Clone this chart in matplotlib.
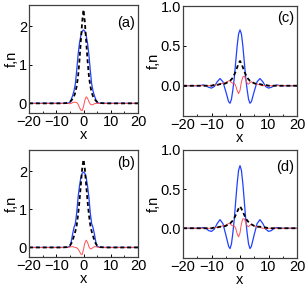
import numpy as np
import matplotlib.pyplot as plt
from matplotlib.ticker import MultipleLocator

plt.rcParams['font.family'] = ['Liberation Sans', 'DejaVu Sans']

# x samples for panels (a) and (b)
x_ab = [-20, -8, -6, -5, -4.5, -4, -3.5, -3, -2.5, -2, -1.5, -1, -0.5, 0,
        0.5, 1, 1.5, 2, 2.5, 3, 3.5, 4, 4.5, 5, 6, 8, 20]

blue_a = [0, 0, 0, 0.02, 0.1, 0.2, 0.32, 0.5, 0.85, 1.25, 1.55, 1.75, 1.87, 1.9,
          1.87, 1.75, 1.55, 1.25, 0.85, 0.5, 0.32, 0.2, 0.1, 0.02, 0, 0, 0]
black_a = [0, 0, 0.01, 0.04, 0.07, 0.12, 0.18, 0.28, 0.45, 0.7, 1.1, 1.6, 2.1, 2.43,
           2.1, 1.6, 1.1, 0.7, 0.45, 0.28, 0.18, 0.12, 0.07, 0.04, 0.01, 0, 0]
red_a = [0, 0, 0, -0.01, 0.0, 0.02, 0.03, 0.03, 0.02, -0.02, -0.1, -0.17, -0.19, -0.08,
         0.08, 0.17, 0.13, 0.04, -0.02, -0.04, -0.03, -0.01, 0, 0, 0, 0, 0]

blue_b = [0, 0, 0, 0.03, 0.15, 0.35, 0.52, 0.62, 0.9, 1.3, 1.6, 1.82, 1.94, 1.97,
          1.94, 1.82, 1.6, 1.3, 0.9, 0.62, 0.52, 0.35, 0.15, 0.03, 0, 0, 0]
black_b = [0, 0, 0.01, 0.05, 0.1, 0.18, 0.3, 0.42, 0.58, 0.85, 1.2, 1.62, 2.05, 2.3,
           2.05, 1.62, 1.2, 0.85, 0.58, 0.42, 0.3, 0.18, 0.1, 0.05, 0.01, 0, 0]
red_b = [0, 0, 0, 0.01, 0.02, 0.02, 0.01, 0.0, -0.01, -0.04, -0.1, -0.17, -0.19, -0.05,
         0.12, 0.19, 0.13, 0.02, -0.04, -0.03, 0.0, 0.02, 0.02, 0.01, 0, 0, 0]

# x samples for panels (c) and (d)
x_cd = [-20, -16, -14, -13, -12, -11, -10, -9, -8, -7, -6, -5, -4, -3.5, -3, -2.5,
        -2, -1.5, -1, -0.5, 0, 0.5, 1, 1.5, 2, 2.5, 3, 3.5, 4, 5, 6, 7, 8, 9, 10,
        11, 12, 13, 14, 16, 20]

blue_c = [0, 0, 0, 0.01, 0, -0.02, -0.03, -0.01, 0.05, 0.09, 0.05, -0.07, -0.2, -0.22,
          -0.17, -0.05, 0.1, 0.3, 0.5, 0.65, 0.7, 0.65, 0.5, 0.3, 0.1, -0.05, -0.17,
          -0.22, -0.2, -0.07, 0.05, 0.09, 0.05, -0.01, -0.03, -0.02, 0, 0.01, 0, 0, 0]
black_c = [0, 0, 0, 0, 0, 0, 0, 0.01, 0.01, 0.02, 0.02, 0.03, 0.05, 0.06, 0.08, 0.1,
           0.14, 0.18, 0.23, 0.28, 0.31, 0.28, 0.23, 0.18, 0.14, 0.1, 0.08, 0.06, 0.05,
           0.03, 0.02, 0.02, 0.01, 0.01, 0, 0, 0, 0, 0, 0, 0]
red_c = [0, 0, 0, 0, 0, 0, 0, 0.01, 0.01, 0.02, 0.03, 0.04, 0.06, 0.06, 0.04, 0.03,
         0.03, 0.0, -0.06, -0.1, -0.06, 0.05, 0.11, 0.12, 0.08, 0.03, 0.02, 0.04, 0.05,
         0.03, 0.02, 0.01, 0, 0, 0, 0, 0, 0, 0, 0, 0]

blue_d = [0, 0, 0, 0.01, 0, -0.03, -0.04, -0.01, 0.06, 0.11, 0.06, -0.08, -0.23, -0.26,
          -0.2, -0.06, 0.12, 0.35, 0.57, 0.74, 0.8, 0.74, 0.57, 0.35, 0.12, -0.06, -0.2,
          -0.26, -0.23, -0.08, 0.06, 0.11, 0.06, -0.01, -0.04, -0.03, 0, 0.01, 0, 0, 0]
black_d = [0, 0, 0, 0, 0, 0, 0, 0.01, 0.01, 0.02, 0.02, 0.03, 0.05, 0.06, 0.08, 0.1,
           0.13, 0.17, 0.21, 0.25, 0.28, 0.25, 0.21, 0.17, 0.13, 0.1, 0.08, 0.06, 0.05,
           0.03, 0.02, 0.02, 0.01, 0.01, 0, 0, 0, 0, 0, 0, 0]
red_d = [0, 0, 0, 0, 0, 0, 0, 0.01, 0.01, 0.02, 0.03, 0.04, 0.06, 0.06, 0.04, 0.03,
         0.03, 0.0, -0.07, -0.11, -0.06, 0.06, 0.12, 0.12, 0.08, 0.03, 0.02, 0.04, 0.05,
         0.03, 0.02, 0.01, 0, 0, 0, 0, 0, 0, 0, 0, 0]

W, H = 305, 290
fig = plt.figure(figsize=(W / 100, H / 100), dpi=100)

def box(left, top, right, bottom):
    return [left / W, 1 - bottom / H, (right - left) / W, (bottom - top) / H]

panels = [
    ('(a)', box(29, 5, 138, 113), x_ab, blue_a, black_a, red_a, (-0.25, 2.55), [0, 1, 2], '%d', 18),
    ('(c)', box(183, 6, 297, 116), x_cd, blue_c, black_c, red_c, (-0.38, 1.0), [0, 0.5, 1.0], '%.1f', 12),
    ('(b)', box(29, 150, 138, 257), x_ab, blue_b, black_b, red_b, (-0.25, 2.55), [0, 1, 2], '%d', 13),
    ('(d)', box(183, 150, 297, 258), x_cd, blue_d, black_d, red_d, (-0.38, 1.0), [0, 0.5, 1.0], '%.1f', 17),
]

for lab, pos, xs, b, k, r, yl, yt, fmt, dy in panels:
    ax = fig.add_axes(pos)
    ax.plot(xs, b, color='#2040ff', lw=0.9)
    ax.plot(xs, r, color='#ff5050', lw=0.7)
    ax.plot(xs, k, color='black', lw=1.3, ls=(0, (2.2, 1.6)))
    ax.set_xlim(-20, 20)
    ax.set_ylim(*yl)
    ax.set_xticks([-20, -10, 0, 10, 20])
    ax.xaxis.set_minor_locator(MultipleLocator(5))
    ax.set_yticks(yt)
    ax.set_yticklabels([fmt % v for v in yt])
    ax.tick_params(direction='in', labelsize=10.5, length=2.5, width=0.7, pad=1.5)
    ax.tick_params(which='minor', direction='in', length=1.5, width=0.6)
    for s in ax.spines.values():
        s.set_color('#404040')
        s.set_linewidth(0.9)
    ax.set_xlabel('x', fontsize=10.5, labelpad=-0.5)
    ax.set_ylabel('f,n', fontsize=10.5, labelpad=0)
    h = pos[3] * H
    ax.text(0.975, 1 - dy / h, lab, transform=ax.transAxes, ha='right', va='center', fontsize=10.5)

fig.savefig('out.png', dpi=100)
